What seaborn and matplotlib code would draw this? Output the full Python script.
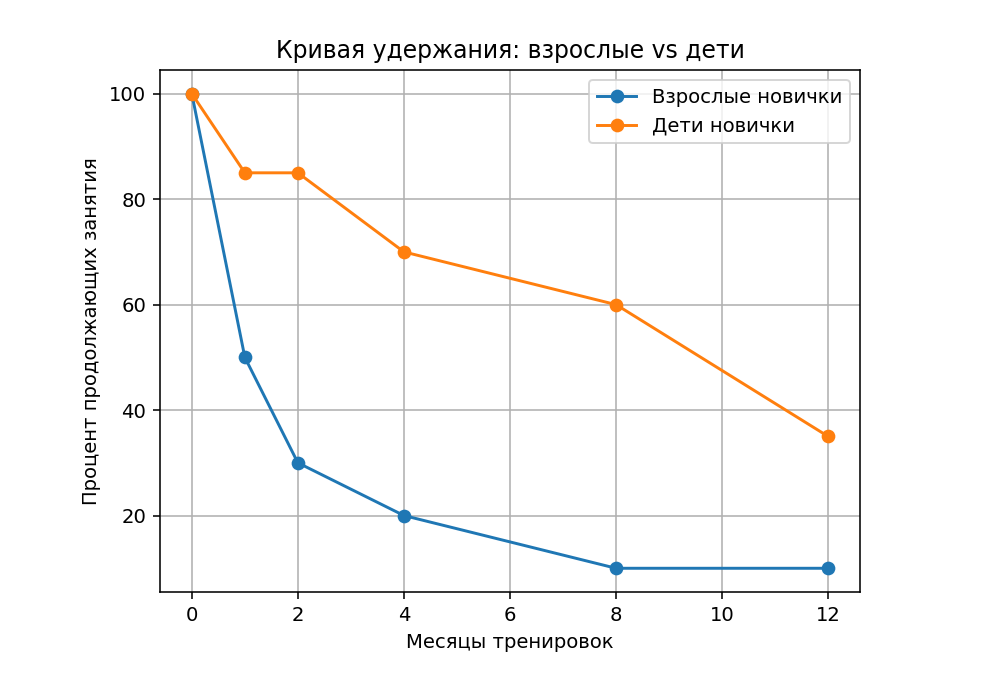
import pandas as pd
import seaborn as sns
import matplotlib.pyplot as plt

months = [0, 1, 2, 4, 8, 12]
adults = [100, 50, 30, 20, 10, 10]
kids = [100, 85, 85, 70, 60, 35]
labels = ["Взрослые новички", "Дети новички"]

df = pd.DataFrame({
    "month": months * 2,
    "pct": adults + kids,
    "group": [labels[0]] * len(months) + [labels[1]] * len(months),
})

dpi = 141
fig, ax = plt.subplots(figsize=(1004 / dpi, 676 / dpi), dpi=dpi)
fig.subplots_adjust(left=160 / 1004, right=860 / 1004, top=1 - 70 / 676, bottom=1 - 592 / 676)

sns.lineplot(data=df, x="month", y="pct", hue="group", marker="o", markersize=7,
             markeredgewidth=0, palette=["#1f77b4", "#ff7f0e"], ax=ax)

ax.set_title("Кривая удержания: взрослые vs дети", fontsize=12)
ax.set_xlabel("Месяцы тренировок")
ax.set_ylabel("Процент продолжающих занятия")
ax.grid(True)
ax.legend(title=None, loc="upper right")

plt.savefig("out.png", dpi=dpi)
